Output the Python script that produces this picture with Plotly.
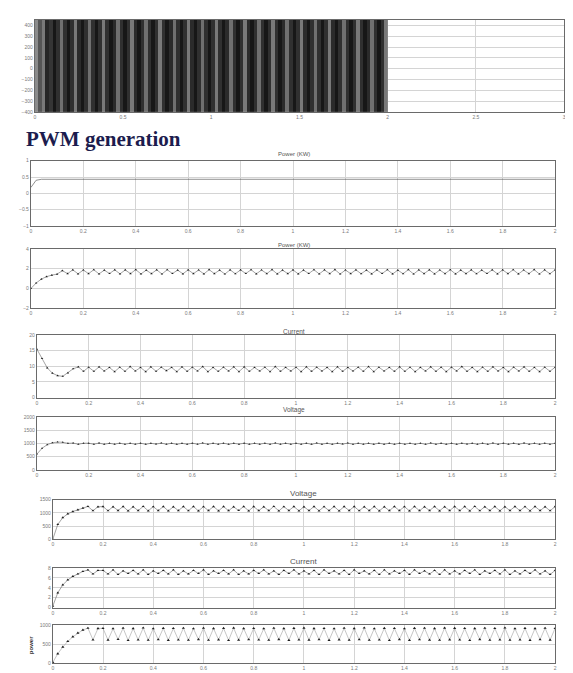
import plotly.graph_objects as go

# ---------------- data ----------------
pwm_level = [
    0.85, 0.55, 0.75, 0.20, 0.35, 0.05, 0.30, 0.70, 0.30, 0.05,
    0.30, 0.75, 0.25, 0.05, 0.30, 0.70, 0.30, 0.05, 0.30, 0.75,
    0.30, 0.05, 0.25, 0.70, 0.30, 0.05, 0.30, 0.75, 0.25, 0.05,
    0.30, 0.70, 0.30, 0.05, 0.30, 0.75, 0.30, 0.05, 0.25, 0.70,
    0.30, 0.05, 0.30, 0.75, 0.25, 0.05, 0.30, 0.70, 0.30, 0.05,
    0.30, 0.75, 0.30, 0.05, 0.25, 0.70, 0.30, 0.05, 0.30, 0.75,
    0.25, 0.05, 0.30, 0.70, 0.30, 0.05, 0.30, 0.75, 0.30, 0.05,
    0.25, 0.70, 0.30, 0.05, 0.30, 0.75, 0.25, 0.05, 0.30, 0.70,
    0.30, 0.05, 0.30, 0.75, 0.25, 0.05, 0.30, 0.70, 0.30, 0.05,
    0.30, 0.75, 0.30, 0.05, 0.25, 0.70, 0.30, 0.05, 0.30, 0.75,
]
pwm_span = [-400, 450]

time_s = [
    0.00, 0.02, 0.04, 0.06, 0.08, 0.10, 0.12, 0.14, 0.16, 0.18,
    0.20, 0.22, 0.24, 0.26, 0.28, 0.30, 0.32, 0.34, 0.36, 0.38,
    0.40, 0.42, 0.44, 0.46, 0.48, 0.50, 0.52, 0.54, 0.56, 0.58,
    0.60, 0.62, 0.64, 0.66, 0.68, 0.70, 0.72, 0.74, 0.76, 0.78,
    0.80, 0.82, 0.84, 0.86, 0.88, 0.90, 0.92, 0.94, 0.96, 0.98,
    1.00, 1.02, 1.04, 1.06, 1.08, 1.10, 1.12, 1.14, 1.16, 1.18,
    1.20, 1.22, 1.24, 1.26, 1.28, 1.30, 1.32, 1.34, 1.36, 1.38,
    1.40, 1.42, 1.44, 1.46, 1.48, 1.50, 1.52, 1.54, 1.56, 1.58,
    1.60, 1.62, 1.64, 1.66, 1.68, 1.70, 1.72, 1.74, 1.76, 1.78,
    1.80, 1.82, 1.84, 1.86, 1.88, 1.90, 1.92, 1.94, 1.96, 1.98,
    2.00,
]

power_kw_1 = [
    0.18, 0.40, 0.43, 0.43, 0.43, 0.43, 0.43, 0.43, 0.43, 0.43,
    0.43, 0.43, 0.43, 0.43, 0.43, 0.43, 0.43, 0.43, 0.43, 0.43,
    0.43, 0.43, 0.43, 0.43, 0.43, 0.43, 0.43, 0.43, 0.43, 0.43,
    0.43, 0.43, 0.43, 0.43, 0.43, 0.43, 0.43, 0.43, 0.43, 0.43,
    0.43, 0.43, 0.43, 0.43, 0.43, 0.43, 0.43, 0.43, 0.43, 0.43,
    0.43, 0.43, 0.43, 0.43, 0.43, 0.43, 0.43, 0.43, 0.43, 0.43,
    0.43, 0.43, 0.43, 0.43, 0.43, 0.43, 0.43, 0.43, 0.43, 0.43,
    0.43, 0.43, 0.43, 0.43, 0.43, 0.43, 0.43, 0.43, 0.43, 0.43,
    0.43, 0.43, 0.43, 0.43, 0.43, 0.43, 0.43, 0.43, 0.43, 0.43,
    0.43, 0.43, 0.43, 0.43, 0.43, 0.43, 0.43, 0.43, 0.43, 0.43,
    0.43,
]

power_kw_2 = [
    0.00, 0.55, 0.95, 1.20, 1.35, 1.45, 1.80, 1.50, 1.88, 1.48,
    1.86, 1.50, 1.89, 1.47, 1.85, 1.51, 1.88, 1.48, 1.87, 1.50,
    1.90, 1.47, 1.85, 1.50, 1.88, 1.46, 1.89, 1.51, 1.85, 1.48,
    1.88, 1.50, 1.86, 1.47, 1.90, 1.50, 1.85, 1.46, 1.88, 1.49,
    1.87, 1.51, 1.89, 1.48, 1.86, 1.50, 1.90, 1.47, 1.85, 1.50,
    1.87, 1.48, 1.85, 1.51, 1.89, 1.47, 1.87, 1.50, 1.90, 1.46,
    1.86, 1.50, 1.88, 1.49, 1.85, 1.48, 1.87, 1.51, 1.89, 1.47,
    1.85, 1.49, 1.90, 1.46, 1.87, 1.50, 1.88, 1.48, 1.86, 1.50,
    1.89, 1.47, 1.85, 1.50, 1.87, 1.49, 1.85, 1.51, 1.88, 1.48,
    1.87, 1.50, 1.89, 1.47, 1.86, 1.50, 1.90, 1.46, 1.87, 1.49,
    1.88,
]

current_1 = [
    15.5, 12.5, 9.5, 7.8, 7.0, 6.8, 7.9, 9.2, 9.8, 8.4,
    9.7, 8.4, 9.8, 8.5, 9.6, 8.3, 9.7, 8.4, 9.9, 8.5,
    9.6, 8.3, 9.8, 8.4, 9.7, 8.6, 9.6, 8.3, 9.8, 8.4,
    9.7, 8.5, 9.9, 8.3, 9.6, 8.4, 9.7, 8.5, 9.8, 8.3,
    9.8, 8.4, 9.6, 8.5, 9.7, 8.3, 9.9, 8.4, 9.6, 8.5,
    9.7, 8.3, 9.8, 8.4, 9.7, 8.5, 9.6, 8.3, 9.8, 8.4,
    9.6, 8.5, 9.7, 8.4, 9.9, 8.3, 9.7, 8.5, 9.6, 8.4,
    9.8, 8.4, 9.7, 8.3, 9.6, 8.5, 9.8, 8.4, 9.7, 8.3,
    9.7, 8.5, 9.9, 8.4, 9.6, 8.3, 9.7, 8.4, 9.8, 8.5,
    9.6, 8.3, 9.7, 8.5, 9.8, 8.4, 9.6, 8.3, 9.7, 8.4,
    9.7,
]

voltage_1 = [
    600, 820, 960, 1030, 1060, 1050, 1010, 1020, 975, 1015,
    1015, 978, 1020, 975, 1012, 980, 1018, 976, 1014, 979,
    1017, 974, 1013, 981, 1019, 977, 1015, 973, 1011, 978,
    1016, 979, 1021, 976, 1014, 980, 1017, 975, 1013, 978,
    1018, 975, 1012, 979, 1016, 974, 1020, 977, 1015, 980,
    1014, 978, 1017, 973, 1019, 979, 1013, 976, 1016, 981,
    1020, 976, 1015, 980, 1012, 975, 1018, 978, 1014, 974,
    1016, 980, 1013, 977, 1017, 973, 1021, 979, 1015, 976,
    1012, 975, 1018, 981, 1014, 978, 1016, 974, 1019, 977,
    1017, 979, 1014, 976, 1020, 980, 1013, 975, 1018, 978,
    1015,
]

voltage_2 = [
    0, 560, 820, 960, 1050, 1110, 1180, 1240, 1080, 1230,
    1235, 1080, 1230, 1088, 1238, 1076, 1228, 1085, 1240, 1078,
    1232, 1083, 1237, 1075, 1229, 1087, 1234, 1080, 1239, 1074,
    1231, 1086, 1236, 1079, 1233, 1082, 1227, 1089, 1238, 1077,
    1234, 1081, 1229, 1084, 1240, 1076, 1232, 1088, 1235, 1079,
    1228, 1085, 1237, 1078, 1231, 1083, 1239, 1075, 1233, 1087,
    1236, 1080, 1230, 1086, 1234, 1077, 1228, 1082, 1238, 1084,
    1232, 1076, 1239, 1081, 1227, 1088, 1235, 1079, 1230, 1085,
    1237, 1083, 1233, 1075, 1240, 1080, 1229, 1086, 1234, 1078,
    1230, 1087, 1236, 1082, 1232, 1077, 1238, 1084, 1228, 1080,
    1235,
]

current_2 = [
    0.3, 3.0, 4.6, 5.6, 6.3, 6.8, 7.3, 7.6, 6.8, 7.5,
    7.5, 6.8, 7.6, 6.7, 7.4, 6.9, 7.5, 6.8, 7.6, 6.7,
    7.4, 6.9, 7.5, 6.8, 7.6, 6.7, 7.4, 6.8, 7.5, 6.9,
    7.6, 6.7, 7.4, 6.9, 7.5, 6.8, 7.6, 6.7, 7.4, 6.8,
    7.5, 6.9, 7.6, 6.8, 7.4, 6.7, 7.5, 6.9, 7.6, 6.8,
    7.4, 6.8, 7.5, 6.7, 7.6, 6.9, 7.4, 6.8, 7.5, 6.7,
    7.6, 6.9, 7.4, 6.8, 7.5, 6.7, 7.6, 6.8, 7.4, 6.9,
    7.5, 6.7, 7.6, 6.9, 7.4, 6.8, 7.5, 6.7, 7.6, 6.8,
    7.4, 6.8, 7.5, 6.9, 7.6, 6.7, 7.4, 6.9, 7.5, 6.8,
    7.6, 6.7, 7.4, 6.8, 7.5, 6.9, 7.6, 6.8, 7.4, 6.7,
    7.5,
]

power_3 = [
    20, 250, 430, 580, 700, 800, 880, 930, 620, 920,
    925, 615, 915, 630, 930, 605, 920, 620, 935, 610,
    918, 625, 928, 608, 922, 618, 932, 612, 916, 628,
    930, 610, 920, 622, 926, 606, 934, 616, 919, 624,
    924, 619, 916, 611, 931, 627, 921, 609, 927, 620,
    933, 614, 919, 626, 925, 607, 917, 621, 929, 613,
    921, 623, 935, 610, 918, 618, 928, 605, 923, 629,
    916, 608, 926, 624, 932, 615, 920, 611, 934, 622,
    928, 617, 922, 606, 919, 628, 930, 613, 924, 619,
    935, 611, 917, 620, 927, 609, 921, 625, 931, 616,
    925,
]

top_xticks = [0, 0.5, 1, 1.5, 2, 2.5, 3]
top_yticks = [-400, -300, -200, -100, 0, 100, 200, 300, 400]
time_ticks = [0, 0.2, 0.4, 0.6, 0.8, 1, 1.2, 1.4, 1.6, 1.8, 2]
time_ticklabels = ["0", "0.2", "0.4", "0.6", "0.8", "1", "1.2", "1.4", "1.6", "1.8", "2"]

# --------------- layout helpers ---------------
W, H = 573, 673
LINE = "#444444"
MARK = "#1e1e1e"
GRID = "#d4d4d4"
FRAME = "#6a6a6a"
TICKF = dict(family="Liberation Sans, Arial", size=5, color="#7a7a7a")


def xdom(x0, x1):
    return [x0 / W, x1 / W]


def ydom(top, bottom):
    return [1 - bottom / H, 1 - top / H]


def axis(domain, rng, tickvals, ticktext=None, anchor=None):
    d = dict(domain=domain, range=rng, tickvals=tickvals, showgrid=True,
             gridcolor=GRID, gridwidth=1, zeroline=False, showline=True,
             linecolor=FRAME, linewidth=1, mirror=True, ticks="",
             tickfont=TICKF, anchor=anchor)
    if ticktext is not None:
        d["ticktext"] = ticktext
    return d


fig = go.Figure()
layout = dict(width=W, height=H, margin=dict(l=0, r=0, t=0, b=0),
              paper_bgcolor="white", plot_bgcolor="white", showlegend=False)

# panel frames (pixel positions) : (x0, x1, top, bottom)
panels = [
    (26, 558, 9, 102),
    (22, 549, 151, 217),
    (22, 549, 240, 300),
    (28, 549, 327, 390),
    (28, 549, 410, 463),
    (44, 549, 493, 533),
    (44, 549, 562, 602),
    (44, 549, 620, 658),
]
yranges = [[-400, 450], [-1, 1], [-2, 4], [0, 20], [0, 2000], [0, 1500], [0, 8], [0, 1000]]
yticks = [top_yticks, [-1, -0.5, 0, 0.5, 1], [-2, 0, 2, 4], [0, 5, 10, 15, 20],
          [0, 500, 1000, 1500, 2000], [0, 500, 1000, 1500], [0, 2, 4, 6, 8], [0, 500, 1000]]

for i, (x0, x1, top, bot) in enumerate(panels):
    n = "" if i == 0 else str(i + 1)
    if i == 0:
        xa = axis(xdom(x0, x1), [0, 3], top_xticks, anchor="y")
    else:
        xa = axis(xdom(x0, x1), [0, 2], time_ticks, time_ticklabels, anchor="y" + n)
    ya = axis(ydom(top, bot), yranges[i], yticks[i], anchor="x" + n)
    layout["xaxis" + n] = xa
    layout["yaxis" + n] = ya

# PWM panel
fig.add_trace(go.Heatmap(z=[pwm_level], x0=0.01, dx=0.02, y=pwm_span,
                         colorscale=[[0, "#121212"], [0.4, "#3a3a3a"], [1, "#a6a6a6"]],
                         zmin=0, zmax=1, showscale=False, xaxis="x", yaxis="y"))

series = [power_kw_1, power_kw_2, current_1, voltage_1, voltage_2, current_2, power_3]
with_markers = [False, True, True, True, True, True, True]
line_cols = [LINE, "#666666", "#666666", "#666666", "#666666", "#666666", "#a0a0a0"]
mark_sizes = [0, 2.2, 2.2, 2.0, 2.6, 2.6, 2.8]
for k, ys in enumerate(series):
    n = str(k + 2)
    fig.add_trace(go.Scatter(
        x=time_s, y=ys, mode="lines+markers" if with_markers[k] else "lines",
        line=dict(color=line_cols[k], width=0.6),
        marker=dict(symbol="triangle-up", size=mark_sizes[k], color=MARK),
        xaxis="x" + n, yaxis="y" + n, hoverinfo="skip"))

ann = []
ann.append(dict(text="<b>PWM generation</b>", x=15 / W, y=1 - 129 / H, xref="paper", yref="paper",
                xanchor="left", yanchor="middle", showarrow=False,
                font=dict(family="Liberation Serif, Times New Roman", size=21, color="#1c1c4e")))
titles = [("Power (KW)", 286, 144, 6), ("Power (KW)", 286, 236, 6), ("Current", 286, 323, 6.5),
          ("Voltage", 286, 403, 6.5), ("Voltage", 296, 487, 8), ("Current", 296, 555, 8)]
for txt, cx, cy, fs in titles:
    ann.append(dict(text=txt, x=cx / W, y=1 - cy / H, xref="paper", yref="paper",
                    xanchor="center", yanchor="middle", showarrow=False,
                    font=dict(family="Liberation Sans, Arial", size=fs, color="#555555")))
ann.append(dict(text="<b>power</b>", x=22 / W, y=1 - 640 / H, xref="paper", yref="paper",
                xanchor="center", yanchor="middle", showarrow=False, textangle=-90,
                font=dict(family="Liberation Sans, Arial", size=6, color="#333333")))
layout["annotations"] = ann

fig.update_layout(**layout)
fig.write_html("out.html")
